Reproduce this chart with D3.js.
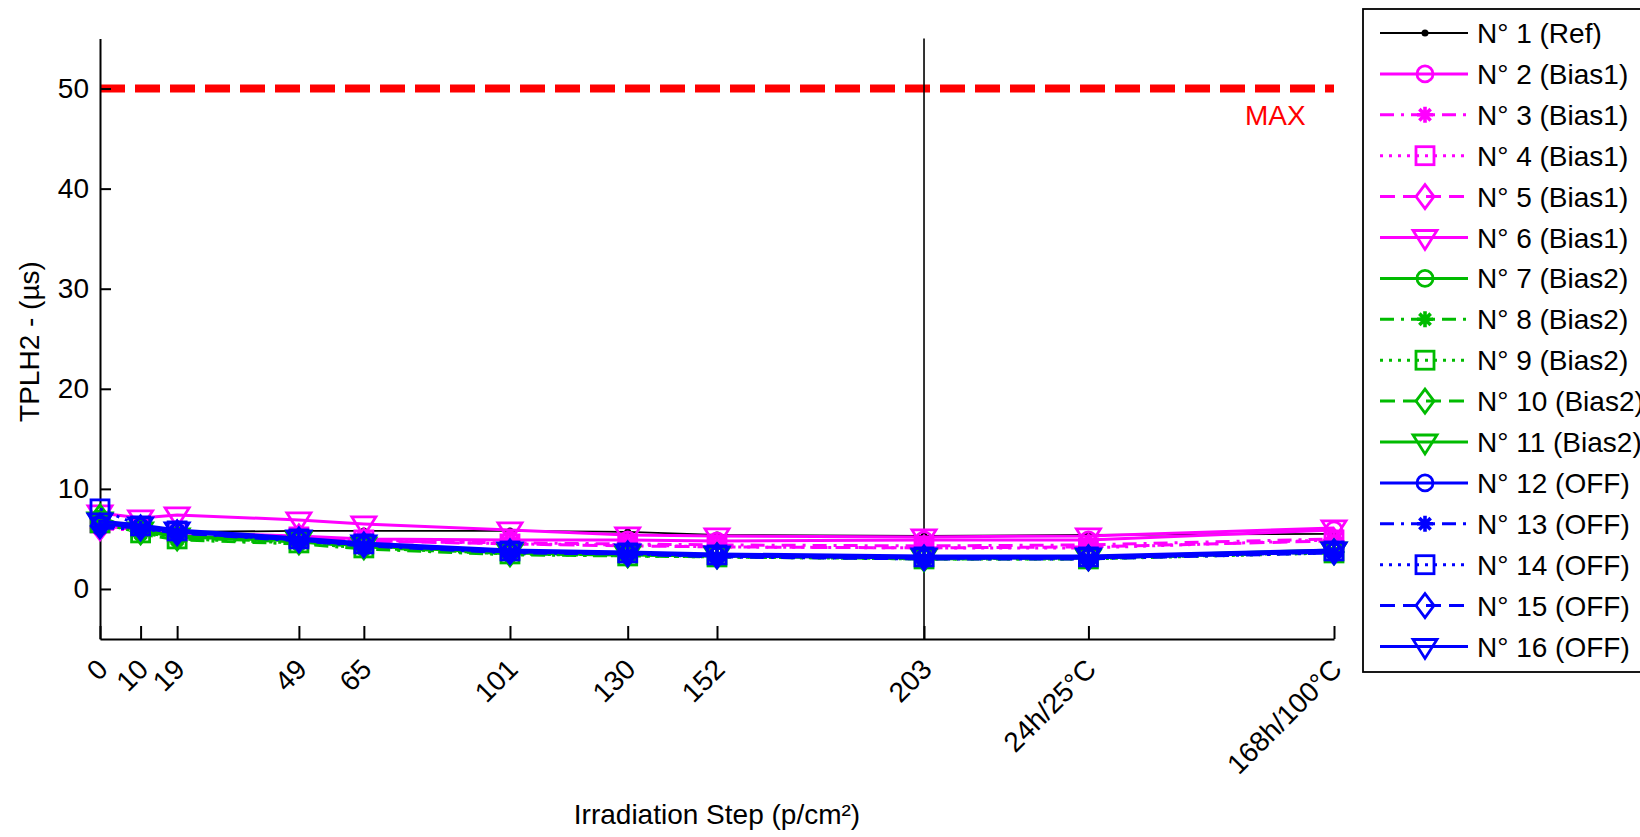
<!DOCTYPE html>
<html>
<head>
<meta charset="utf-8">
<script src="https://cdn.jsdelivr.net/npm/d3@7"></script>
<style>
  html, body { margin: 0; padding: 0; background: #fff; }
  svg { display: block; font-family: "Liberation Sans", Arial, sans-serif; }
</style>
</head>
<body>
<svg id="chart" width="1640" height="837"></svg>
<script>
// ---------------- DATA ----------------
const stepPositions = [0, 10, 19, 49, 65, 101, 130, 152, 203, 243.5, 304];
const stepLabels = ["0", "10", "19", "49", "65", "101", "130", "152", "203", "24h/25°C", "168h/100°C"];
const yTicks = [0, 10, 20, 30, 40, 50];
const maxLimit = 50;
const separatorStep = 203;

const seriesNames = [
  "N° 1 (Ref)", "N° 2 (Bias1)", "N° 3 (Bias1)", "N° 4 (Bias1)", "N° 5 (Bias1)", "N° 6 (Bias1)",
  "N° 7 (Bias2)", "N° 8 (Bias2)", "N° 9 (Bias2)", "N° 10 (Bias2)", "N° 11 (Bias2)",
  "N° 12 (OFF)", "N° 13 (OFF)", "N° 14 (OFF)", "N° 15 (OFF)", "N° 16 (OFF)"
];
const s1  = [6.3, 6.0, 5.7, 5.8, 5.8, 5.8, 5.7, 5.4, 5.3, 5.4, 5.5];
const s2  = [6.2, 6.1, 5.6, 5.3, 5.0, 4.9, 4.9, 4.8, 4.9, 4.9, 5.9];
const s3  = [6.0, 5.9, 5.5, 5.1, 4.8, 4.6, 4.5, 4.4, 4.3, 4.4, 5.0];
const s4  = [6.6, 6.2, 5.7, 5.2, 4.9, 4.5, 4.4, 4.2, 4.1, 4.1, 4.9];
const s5  = [6.1, 6.0, 5.6, 5.2, 4.8, 4.5, 4.3, 4.2, 4.1, 4.2, 4.8];
const s6  = [7.6, 7.1, 7.4, 6.9, 6.5, 5.9, 5.4, 5.3, 5.2, 5.3, 6.1];
const s7  = [7.0, 5.8, 5.2, 4.8, 4.3, 3.6, 3.4, 3.3, 3.1, 3.1, 3.8];
const s8  = [6.8, 5.5, 4.9, 4.5, 4.0, 3.4, 3.3, 3.2, 3.0, 3.0, 3.7];
const s9  = [6.6, 5.6, 5.0, 4.6, 4.1, 3.5, 3.3, 3.2, 3.0, 3.0, 3.6];
const s10 = [7.2, 5.7, 5.1, 4.7, 4.2, 3.5, 3.4, 3.3, 3.0, 3.1, 3.7];
const s11 = [6.9, 5.9, 5.3, 4.9, 4.4, 3.7, 3.5, 3.4, 3.2, 3.2, 3.9];
const s12 = [6.5, 6.2, 5.7, 4.9, 4.4, 3.7, 3.6, 3.3, 3.1, 3.1, 3.7];
const s13 = [6.1, 6.0, 5.6, 4.8, 4.3, 3.6, 3.5, 3.2, 3.0, 3.0, 3.6];
const s14 = [8.0, 6.3, 5.8, 5.0, 4.5, 3.8, 3.6, 3.4, 3.2, 3.2, 3.8];
const s15 = [6.3, 6.1, 5.6, 4.9, 4.4, 3.7, 3.5, 3.3, 3.1, 3.1, 3.7];
const s16 = [6.8, 6.4, 5.9, 5.1, 4.6, 3.9, 3.7, 3.5, 3.3, 3.3, 3.9];
const seriesValues = [s1, s2, s3, s4, s5, s6, s7, s8, s9, s10, s11, s12, s13, s14, s15, s16];

// ---------------- STYLES ----------------
const colors = ["#000000",
  "#ff00ff", "#ff00ff", "#ff00ff", "#ff00ff", "#ff00ff",
  "#00bb00", "#00bb00", "#00bb00", "#00bb00", "#00bb00",
  "#0000ff", "#0000ff", "#0000ff", "#0000ff", "#0000ff"];
const styleCycle = ["solid", "dashdot", "dotted", "dashed", "solid"];
const markerCycle = ["circle", "star", "square", "diamond", "tri"];
const dashMap = { solid: null, dashed: "15,8", dotted: "3,6", dashdot: "14,7,3,7" };

const svg = d3.select("#chart");
const FONT = 28;

const x = d3.scaleLinear().domain([0, 304]).range([100, 1334]);
const y = d3.scaleLinear().domain([-5, 55]).range([639, 38.5]);

// Red MAX line
svg.append("line")
  .attr("x1", x(0)).attr("x2", x(304))
  .attr("y1", y(maxLimit)).attr("y2", y(maxLimit))
  .attr("stroke", "#ff0000").attr("stroke-width", 8)
  .attr("stroke-dasharray", "25,10");
svg.append("text")
  .attr("x", 1245).attr("y", 125)
  .attr("fill", "#ff0000").attr("font-size", FONT)
  .text("MAX");

// Vertical separator at 203
svg.append("line")
  .attr("x1", x(separatorStep)).attr("x2", x(separatorStep))
  .attr("y1", y(55)).attr("y2", y(-5))
  .attr("stroke", "#000").attr("stroke-width", 1.6);

// Axes
const yAxis = d3.axisLeft(y).tickValues(yTicks).tickSizeInner(-11).tickSizeOuter(0).tickPadding(11);
const gy = svg.append("g").attr("transform", `translate(${x(0)},0)`).call(yAxis);
gy.selectAll("text").attr("font-size", FONT).attr("font-family", "Liberation Sans, Arial, sans-serif").attr("fill", "#000");
gy.selectAll("line").attr("stroke-width", 2);
gy.select(".domain").attr("stroke-width", 2);

const xAxis = d3.axisBottom(x).tickValues(stepPositions)
  .tickFormat((d, i) => stepLabels[i]).tickSizeInner(-13).tickSizeOuter(0);
const gx = svg.append("g").attr("transform", `translate(0,${y(-5)})`).call(xAxis);
gx.selectAll("text")
  .attr("font-size", FONT).attr("font-family", "Liberation Sans, Arial, sans-serif").attr("fill", "#000")
  .attr("x", 0).attr("y", 0).attr("dy", 0)
  .attr("text-anchor", "end")
  .attr("transform", "translate(9,32) rotate(-45)");
gx.selectAll("line").attr("stroke-width", 2);
gx.select(".domain").attr("stroke-width", 2);

// Axis titles
svg.append("text")
  .attr("x", (x(0) + x(304)) / 2).attr("y", 824)
  .attr("text-anchor", "middle").attr("font-size", FONT)
  .text("Irradiation Step (p/cm²)");
svg.append("text")
  .attr("transform", `translate(39,${(260 + 423) / 2}) rotate(-90)`)
  .attr("text-anchor", "middle").attr("font-size", FONT)
  .text("TPLH2 - (µs)");

// Marker drawing
function drawMarker(g, type, cx, cy, color) {
  const sw = 2.8;
  if (type === "dot") {
    g.append("circle").attr("cx", cx).attr("cy", cy).attr("r", 3.5).attr("fill", color);
  } else if (type === "circle") {
    g.append("circle").attr("cx", cx).attr("cy", cy).attr("r", 8)
      .attr("fill", "none").attr("stroke", color).attr("stroke-width", sw);
  } else if (type === "square") {
    g.append("rect").attr("x", cx - 9).attr("y", cy - 9).attr("width", 18).attr("height", 18)
      .attr("fill", "none").attr("stroke", color).attr("stroke-width", sw);
  } else if (type === "diamond") {
    g.append("path").attr("d", `M${cx},${cy - 12}L${cx + 9},${cy}L${cx},${cy + 12}L${cx - 9},${cy}Z`)
      .attr("fill", "none").attr("stroke", color).attr("stroke-width", sw);
  } else if (type === "tri") {
    g.append("path").attr("d", `M${cx - 12},${cy - 7}L${cx + 12},${cy - 7}L${cx},${cy + 12}Z`)
      .attr("fill", "none").attr("stroke", color).attr("stroke-width", sw);
  } else if (type === "star") {
    const r = 8;
    let d = "";
    for (let k = 0; k < 4; k++) {
      const a = k * Math.PI / 4;
      d += `M${cx - r * Math.cos(a)},${cy - r * Math.sin(a)}L${cx + r * Math.cos(a)},${cy + r * Math.sin(a)}`;
    }
    g.append("path").attr("d", d).attr("stroke", color).attr("stroke-width", 3.6).attr("fill", "none");
    g.append("circle").attr("cx", cx).attr("cy", cy).attr("r", 4).attr("fill", color);
  }
}

function seriesStyle(i) {
  if (i === 0) return { color: colors[0], dash: null, marker: "dot", width: 1.8 };
  const k = (i - 1) % 5;
  return { color: colors[i], dash: dashMap[styleCycle[k]], marker: markerCycle[k], width: 3 };
}

const line = d3.line().x((d, j) => x(stepPositions[j])).y(d => y(d));
const plot = svg.append("g");
seriesValues.forEach((vals, i) => {
  const st = seriesStyle(i);
  const g = plot.append("g");
  g.append("path").attr("d", line(vals))
    .attr("fill", "none").attr("stroke", st.color).attr("stroke-width", st.width)
    .attr("stroke-dasharray", st.dash);
  vals.forEach((v, j) => drawMarker(g, st.marker, x(stepPositions[j]), y(v), st.color));
});

// Legend
const leg = svg.append("g");
leg.append("rect").attr("x", 1363).attr("y", 9).attr("width", 400).attr("height", 663)
  .attr("fill", "#fff").attr("stroke", "#000").attr("stroke-width", 1.8);
seriesNames.forEach((name, i) => {
  const st = seriesStyle(i);
  const ry = 33 + i * 40.9;
  leg.append("line").attr("x1", 1380).attr("x2", 1468).attr("y1", ry).attr("y2", ry)
    .attr("stroke", st.color).attr("stroke-width", st.width).attr("stroke-dasharray", st.dash);
  drawMarker(leg, st.marker, 1425, ry, st.color);
  leg.append("text").attr("x", 1477).attr("y", ry).attr("dy", "0.36em")
    .attr("font-size", FONT).attr("fill", "#000").text(name);
});
</script>
</body>
</html>
